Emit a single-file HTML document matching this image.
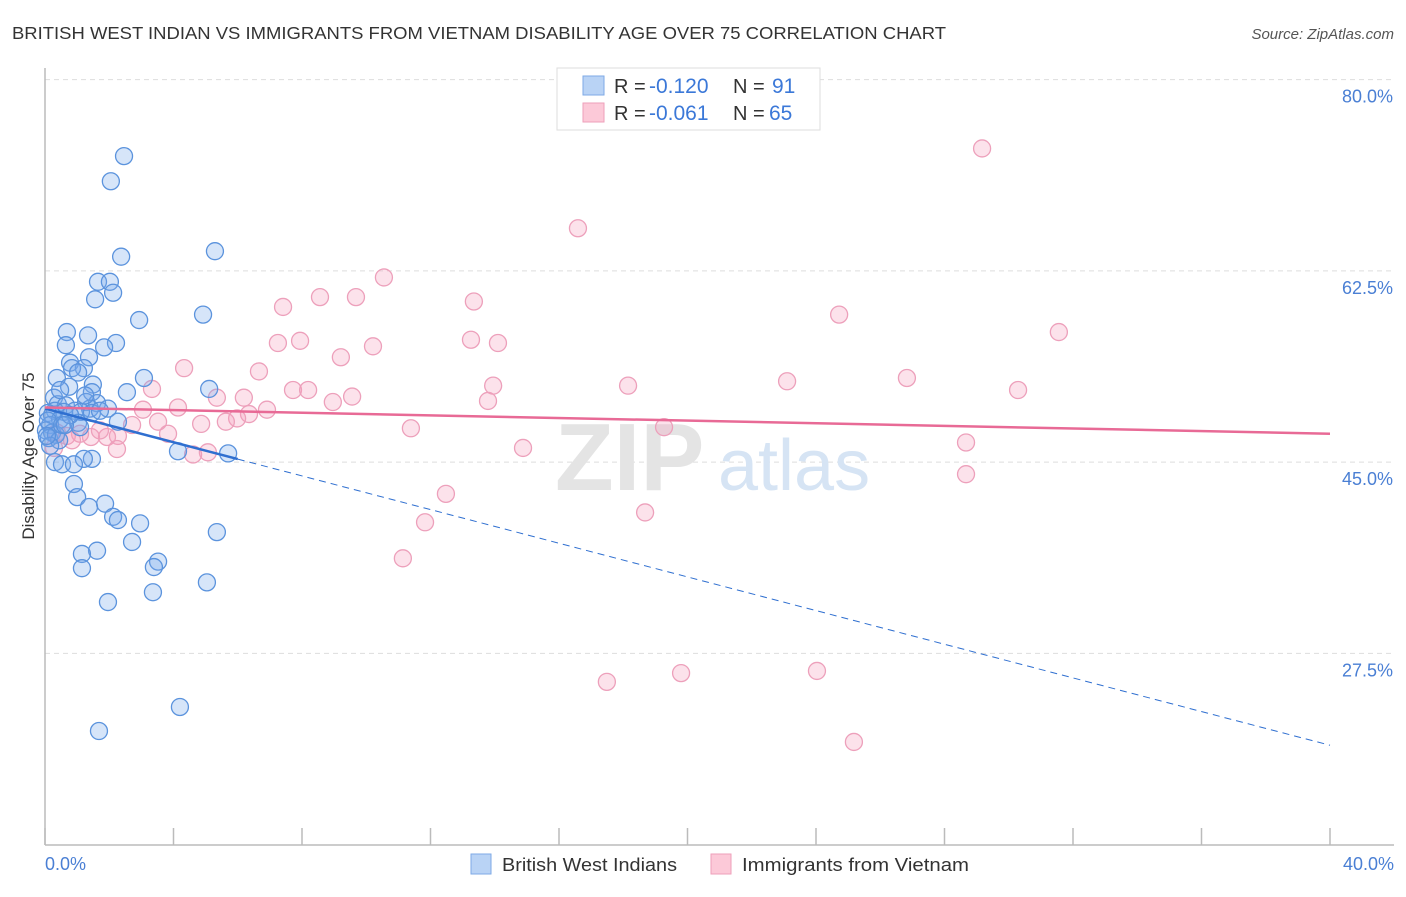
<!DOCTYPE html>
<html><head><meta charset="utf-8"><style>
body{margin:0;background:#fff;font-family:"Liberation Sans",sans-serif;}
svg text{font-family:"Liberation Sans",sans-serif;}
</style></head><body>
<svg id="chart" width="1406" height="892" viewBox="0 0 1406 892" xmlns="http://www.w3.org/2000/svg">
<text x="12" y="39" font-size="17.5" fill="#333" textLength="934" lengthAdjust="spacingAndGlyphs">BRITISH WEST INDIAN VS IMMIGRANTS FROM VIETNAM DISABILITY AGE OVER 75 CORRELATION CHART</text>
<text x="1394" y="39" font-size="15" fill="#555" text-anchor="end" font-style="italic">Source: ZipAtlas.com</text>
<g id="grid"></g>
<g>
<text x="555" y="490" font-size="96" fill="#e4e4e4" font-family="Liberation Serif" font-weight="bold">ZIP</text>
<text x="718" y="490" font-size="72" fill="#d6e4f4">atlas</text>
</g>
<line x1="45" y1="68" x2="45" y2="845" stroke="#bbb" stroke-width="1.5"/>
<line x1="45" y1="845" x2="1394" y2="845" stroke="#bbb" stroke-width="1.5"/>
<g id="ticks"></g>
<text transform="translate(34,456) rotate(-90)" font-size="17" fill="#333" text-anchor="middle">Disability Age Over 75</text>
<g id="pts"></g>
<g id="trends"></g>
<text x="45" y="870" font-size="18" fill="#4a7fd4">0.0%</text>
<text x="1394" y="870" font-size="18" fill="#4a7fd4" text-anchor="end">40.0%</text>
<g>
<rect x="557" y="68" width="263" height="62" fill="#fff" stroke="#ddd"/>
<rect x="583" y="76" width="21" height="19" fill="#b9d3f5" stroke="#7eaae6"/>
<rect x="583" y="103" width="21" height="19" fill="#fcc9d8" stroke="#ee9fba"/>
<text x="614" y="93" font-size="20" fill="#333">R =</text>
<text x="649" y="93" font-size="21" fill="#3b78d8">-0.120</text>
<text x="733" y="93" font-size="20" fill="#333">N =</text>
<text x="772" y="93" font-size="21" fill="#3b78d8">91</text>
<text x="614" y="120" font-size="20" fill="#333">R =</text>
<text x="649" y="120" font-size="21" fill="#3b78d8">-0.061</text>
<text x="733" y="120" font-size="20" fill="#333">N =</text>
<text x="769" y="120" font-size="21" fill="#3b78d8">65</text>
</g>
<g>
<rect x="471" y="854" width="20" height="20" fill="#b9d3f5" stroke="#7eaae6"/>
<text x="502" y="871" font-size="18" fill="#333" textLength="175" lengthAdjust="spacingAndGlyphs">British West Indians</text>
<rect x="711" y="854" width="20" height="20" fill="#fcc9d8" stroke="#ee9fba"/>
<text x="742" y="871" font-size="18" fill="#333" textLength="227" lengthAdjust="spacingAndGlyphs">Immigrants from Vietnam</text>
</g>
</svg>
<script>
const yTicks=[80,62.5,45,27.5];
const yTickLabels=["80.0%","62.5%","45.0%","27.5%"];
const xTicks=[0,4,8,12,16,20,24,28,32,36,40];
const blueX=[2.46,2.05,2.37,5.29,1.65,2.02,2.12,1.56,4.92,2.93,0.68,1.34,2.21,0.65,1.84,1.37,0.78,1.21,0.84,1.03,3.08,0.37,1.49,0.75,2.55,5.11,1.46,0.28,0.40,1.28,1.62,0.65,1.40,1.96,0.31,0.59,0.93,1.12,0.09,0.22,1.46,2.27,0.47,1.03,1.09,0.16,0.03,0.22,0.12,0.34,0.44,4.14,5.70,1.46,1.21,0.31,0.53,0.90,0.90,1.00,1.87,1.37,2.12,2.27,2.96,5.35,2.71,1.62,1.15,1.15,3.52,3.39,5.04,3.36,1.96,4.20,1.68,0.16,0.09,0.06,0.53,0.78,1.71,1.25,0.47,0.62];
const blueY=[73.0,70.7,63.8,64.3,61.5,61.5,60.5,59.9,58.5,58.0,56.9,56.6,55.9,55.7,55.5,54.6,54.1,53.6,53.6,53.2,52.7,52.7,52.1,51.9,51.4,51.7,51.4,50.9,50.3,50.5,50.4,50.2,49.9,49.9,49.7,49.6,49.7,49.6,49.5,49.3,49.5,48.7,48.9,48.6,48.2,48.4,47.9,47.7,47.2,47.5,47.0,46.0,45.8,45.3,45.3,45.0,44.8,44.8,43.0,41.8,41.2,40.9,40.0,39.7,39.4,38.6,37.7,36.9,36.6,35.3,35.9,35.4,34.0,33.1,32.2,22.6,20.4,46.5,48.8,47.4,48.4,49.3,49.7,51.1,51.6,48.4];
const pinkX=[29.17,16.59,10.55,9.68,8.56,13.35,7.41,24.72,31.56,7.94,7.25,13.26,14.10,10.21,9.21,4.33,6.66,3.33,7.72,8.19,23.10,18.15,26.83,30.29,13.95,9.56,6.19,8.96,13.79,5.35,6.91,4.14,3.05,6.35,5.98,5.63,3.52,4.86,2.71,11.39,19.27,3.83,2.27,1.43,1.93,0.68,0.37,0.28,2.24,4.61,5.07,14.88,28.67,28.67,12.48,18.68,11.83,11.14,17.49,19.80,24.03,25.18,1.09,1.71,0.84];
const pinkY=[73.7,66.4,61.9,60.1,60.1,59.7,59.2,58.5,56.9,56.1,55.9,56.2,55.9,55.6,54.6,53.6,53.3,51.7,51.6,51.6,52.4,52.0,52.7,51.6,52.0,51.0,50.9,50.5,50.6,50.9,49.8,50.0,49.8,49.4,49.0,48.7,48.7,48.5,48.4,48.1,48.2,47.6,47.4,47.3,47.3,47.4,47.7,46.3,46.2,45.7,45.9,46.3,46.8,43.9,42.1,40.4,39.5,36.2,24.9,25.7,25.9,19.4,47.6,47.9,47.0];
const blueTrend=[49.9,19.1];
const pinkTrend=[50.0,47.6];
const blueSolidEnd=6;
const NS="http://www.w3.org/2000/svg";
function xs(v){return 45+v*32.125;}
function ys(v){return 954-v*10.93;}
function mk(tag,attrs,parent){const e=document.createElementNS(NS,tag);for(const k in attrs)e.setAttribute(k,attrs[k]);parent.appendChild(e);return e;}
const grid=document.getElementById('grid');
yTicks.forEach((t,i)=>{
  const l=mk('line',{x1:45,x2:1394,y1:ys(t),y2:ys(t),stroke:'#ddd','stroke-dasharray':'5,4'},grid);
  
  
  const tx=mk('text',{x:1393,y:ys(t)+23,'font-size':18,fill:'#4a7fd4','text-anchor':'end'},grid);
  tx.textContent=yTickLabels[i];
  
  
});
const ticks=document.getElementById('ticks');
xTicks.forEach(t=>{
  const l=mk('line',{x1:xs(t),x2:xs(t),y1:828,y2:845,stroke:'#bbb','stroke-width':1.5},ticks);
  
  
});
const pts=document.getElementById('pts');
pinkX.forEach((x,i)=>{
  const c=mk('circle',{cx:xs(x),cy:ys(pinkY[i]),r:8.5,fill:'rgba(245,160,190,0.3)',stroke:'#eda0bb','stroke-width':1.3},pts);
  
  
});
blueX.forEach((x,i)=>{
  const c=mk('circle',{cx:xs(x),cy:ys(blueY[i]),r:8.5,fill:'rgba(120,170,235,0.3)',stroke:'#5b93dd','stroke-width':1.3},pts);
  
  
});
const tr=document.getElementById('trends');
function ty(a,x){return a[0]+(a[1]-a[0])*x/40;}
const b1=mk('line',{x1:xs(0),y1:ys(ty(blueTrend,0)),x2:xs(blueSolidEnd),y2:ys(ty(blueTrend,blueSolidEnd)),stroke:'#2f6fd0','stroke-width':2.5},tr);


const b2=mk('line',{x1:xs(blueSolidEnd),y1:ys(ty(blueTrend,blueSolidEnd)),x2:xs(40),y2:ys(ty(blueTrend,40)),stroke:'#2f6fd0','stroke-width':1,'stroke-dasharray':'7,5'},tr);


const p1=mk('line',{x1:xs(0),y1:ys(ty(pinkTrend,0)),x2:xs(40),y2:ys(ty(pinkTrend,40)),stroke:'#e86a96','stroke-width':2.5},tr);


</script>
</body></html>
